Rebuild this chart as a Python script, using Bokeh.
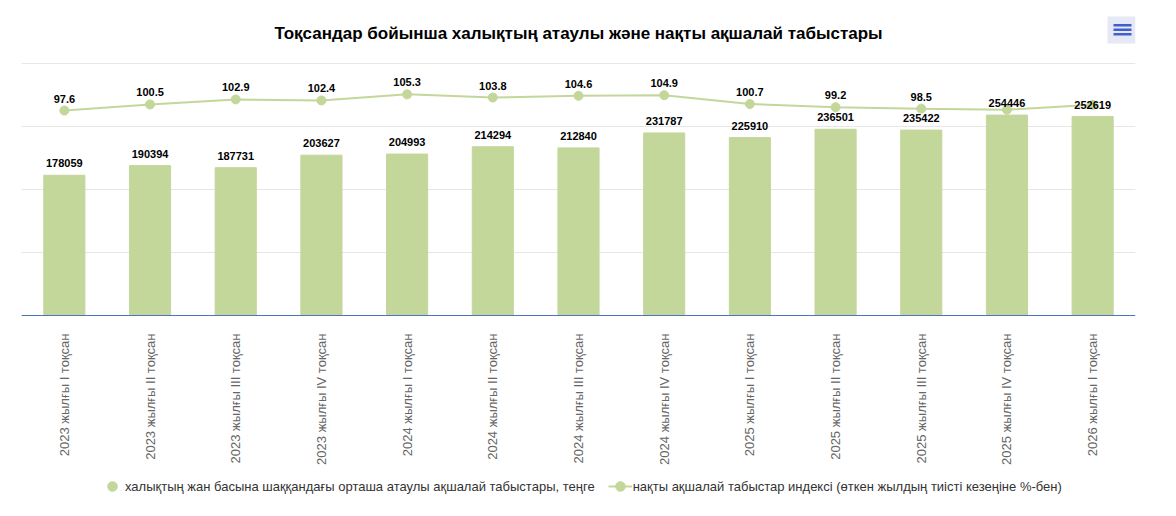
from math import pi
from bokeh.plotting import figure
from bokeh.models import (Range1d, FixedTicker, ColumnDataSource, Legend, LegendItem,
                          BoxAnnotation, Label, Span)
from bokeh.core.properties import value
from bokeh.embed import file_html
from bokeh.resources import INLINE

categories = [
    "2023 жылғы I тоқсан", "2023 жылғы II тоқсан", "2023 жылғы III тоқсан", "2023 жылғы IV тоқсан",
    "2024 жылғы I тоқсан", "2024 жылғы II тоқсан", "2024 жылғы III тоқсан", "2024 жылғы IV тоқсан",
    "2025 жылғы I тоқсан", "2025 жылғы II тоқсан", "2025 жылғы III тоқсан", "2025 жылғы IV тоқсан",
    "2026 жылғы I тоқсан",
]
nominal_income = [178059, 190394, 187731, 203627, 204993, 214294, 212840, 231787,
                  225910, 236501, 235422, 254446, 252619]
real_index = [97.6, 100.5, 102.9, 102.4, 105.3, 103.8, 104.6, 104.9, 100.7, 99.2, 98.5, 98.0, 100.3]
# line labels hidden in the original where they collide with the bar labels
real_label_shown = [True] * 11 + [False, False]
grid_ticks = [0, 80000, 160000, 240000, 320000]
axis_max_left = 320000
axis_max_right = 120

series_names = [
    "халықтың жан басына шаққандағы орташа атаулы ақшалай табыстары, теңге",
    "нақты ақшалай табыстар индексі (өткен жылдың тиісті кезеңіне %-бен)",
]
title_text = "Тоқсандар бойынша халықтың атаулы және нақты ақшалай табыстары"

BAR = "#c4d79b"
FONT = "Liberation Sans"

# layout in pixels: frame covers whole canvas height; plot area 63..315
H = 515
PLOT_TOP, PLOT_BOTTOM = 63, 315
ppx = PLOT_BOTTOM - PLOT_TOP
y_top_l = axis_max_left * PLOT_BOTTOM / ppx
y_bot_l = -axis_max_left * (H - PLOT_BOTTOM) / ppx
y_top_r = axis_max_right * PLOT_BOTTOM / ppx
y_bot_r = -axis_max_right * (H - PLOT_BOTTOM) / ppx

xs = list(range(len(categories)))
src = ColumnDataSource(dict(x=xs, nominal=nominal_income, real=real_index,
                            nlab=[str(v) for v in nominal_income],
                            zero=[0] * len(xs), cat=categories))
lab_idx = [i for i, s in enumerate(real_label_shown) if s]
src_rl = ColumnDataSource(dict(x=[xs[i] for i in lab_idx], real=[real_index[i] for i in lab_idx],
                               rlab=[str(real_index[i]) for i in lab_idx]))

p = figure(frame_width=1114, frame_height=H, output_backend="svg", toolbar_location=None,
           x_range=Range1d(-0.5, len(categories) - 0.5), y_range=Range1d(y_bot_l, y_top_l),
           min_border_left=21, min_border_right=41, min_border_top=0, min_border_bottom=0)
p.extra_y_ranges = {"idx": Range1d(y_bot_r, y_top_r)}
p.outline_line_color = None
p.background_fill_color = "white"

p.yaxis.visible = False
p.xaxis.visible = False
p.yaxis.ticker = FixedTicker(ticks=grid_ticks)
p.ygrid.grid_line_color = "#e6e6e6"
p.xgrid.grid_line_color = None

p.add_layout(Span(location=0, dimension="width", line_color="#4f74bf", line_width=1))

# category (x-axis) labels
p.text(x="x", y="zero", text="cat", source=src, angle=pi / 2, y_offset=18,
       text_align="right", text_baseline="middle", text_font=value(FONT),
       text_font_size="13px", text_color="#666666")

p.vbar(x="x", top="nominal", width=0.48, color=BAR, source=src)
ln = p.line(x="x", y="real", y_range_name="idx", line_width=2, color=BAR, source=src)
mk = p.scatter(x="x", y="real", y_range_name="idx", size=9, color=BAR, source=src)

p.text(x="x", y="nominal", text="nlab", source=src, y_offset=-12,
       text_align="center", text_baseline="middle", text_font=value(FONT),
       text_font_size="11px", text_font_style="bold", text_color="#000000")
p.text(x="x", y="real", text="rlab", source=src_rl, y_range_name="idx", y_offset=-12,
       text_align="center", text_baseline="middle", text_font=value(FONT),
       text_font_size="11px", text_font_style="bold", text_color="#000000")

# title
p.add_layout(Label(x=557, y=H - 33, x_units="screen", y_units="screen", text=title_text,
                   text_align="center", text_baseline="middle", text_font=FONT,
                   text_font_size="17px", text_font_style="bold", text_color="#000000"))

dummy = p.scatter(x=[0], y=[float("nan")], size=12, color=BAR)
legend = Legend(items=[LegendItem(label=series_names[0], renderers=[dummy]),
                       LegendItem(label=series_names[1], renderers=[ln, mk])],
                orientation="horizontal", location=(79, 17),
                label_text_font=FONT, label_text_font_size="13px", label_text_color="#333333",
                glyph_width=24, glyph_height=24, label_height=24, label_standoff=1, spacing=13,
                padding=0, margin=0,
                border_line_color=None, background_fill_alpha=0)
p.add_layout(legend, "center")

# export-menu icon
p.add_layout(BoxAnnotation(left=1086, right=1114, top=H - 16, bottom=H - 43, left_units="screen",
                           right_units="screen", top_units="screen", bottom_units="screen",
                           fill_color="#e6e9f5", fill_alpha=1, line_color=None))
for yy in (23.5, 28, 32.5):
    p.add_layout(BoxAnnotation(left=1092, right=1110, top=H - yy, bottom=H - yy - 2.5,
                               left_units="screen", right_units="screen", top_units="screen",
                               bottom_units="screen", fill_color="#4060d0", fill_alpha=1,
                               line_color=None))

open("out.html", "w").write(file_html(p, INLINE))
